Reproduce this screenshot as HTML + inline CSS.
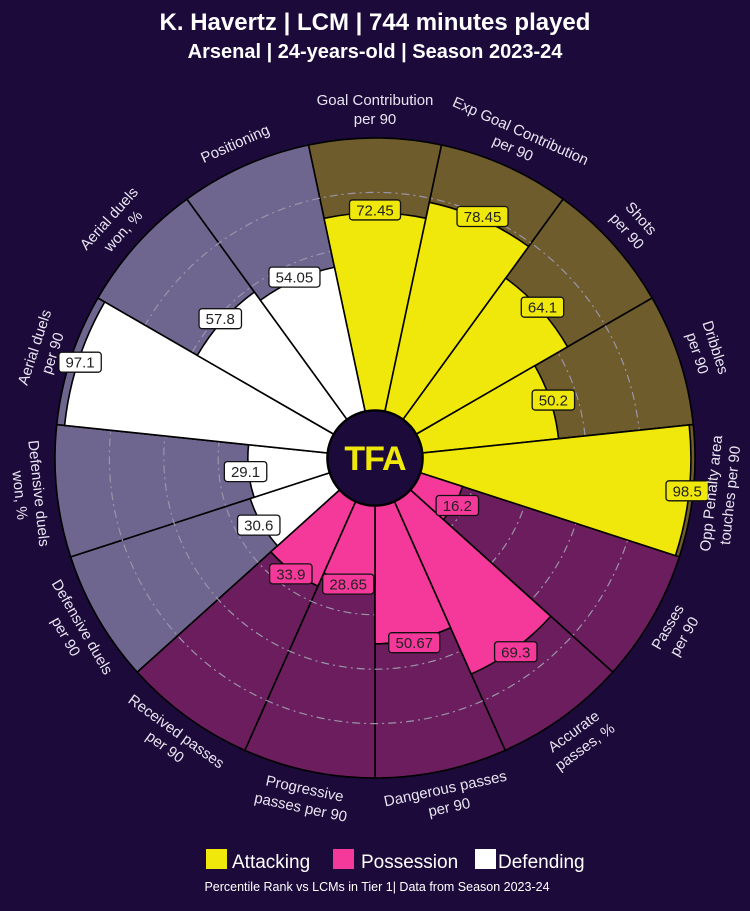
<!DOCTYPE html>
<html><head><meta charset="utf-8">
<style>
html,body{margin:0;padding:0;background:#1c0a3a;}
body{width:750px;height:906px;overflow:hidden;}
svg text{font-family:"Liberation Sans","DejaVu Sans",sans-serif;}
</style></head>
<body>
<svg id="s" width="750" height="906" viewBox="0 0 750 906" xmlns="http://www.w3.org/2000/svg">
<rect width="750" height="906" fill="#1c0a3a"/>
<text x="375" y="30" fill="#ffffff" font-size="24" font-weight="bold" text-anchor="middle">K. Havertz | LCM | 744 minutes played</text>
<text x="375" y="58" fill="#ffffff" font-size="20" font-weight="bold" text-anchor="middle">Arsenal | 24-years-old | Season 2023-24</text>
<g id="g"></g>
<rect x="206" y="849" width="21" height="20" fill="#f0e80a"/>
<text x="232" y="868" fill="#fff" font-size="19">Attacking</text>
<rect x="333" y="849" width="21" height="20" fill="#f5399a"/>
<text x="361" y="868" fill="#fff" font-size="19">Possession</text>
<rect x="475" y="849" width="21" height="20" fill="#ffffff"/>
<text x="498" y="868" fill="#fff" font-size="19">Defending</text>
<text x="377" y="891" fill="#fff" font-size="12.5" text-anchor="middle">Percentile Rank vs LCMs in Tier 1| Data from Season 2023-24</text>
</svg>
<script>
var cx=375,cy=458,R0=48,R=320;
var data=[
["Goal Contribution","per 90",72.45,0],
["Exp Goal Contribution","per 90",78.45,0],
["Shots","per 90",64.1,0],
["Dribbles","per 90",50.2,0],
["Opp Penalty area","touches per 90",98.5,0],
["Passes","per 90",16.2,1],
["Accurate","passes, %",69.3,1],
["Dangerous passes","per 90",50.67,1],
["Progressive","passes per 90",28.65,1],
["Received passes","per 90",33.9,1],
["Defensive duels","per 90",30.6,2],
["Defensive duels","won, %",29.1,2],
["Aerial duels","per 90",97.1,2],
["Aerial duels","won, %",57.8,2],
["Positioning","",54.05,2]];
var bg=["#6e5c2c","#6b1d5e","#6f6690"],fg=["#f0e80a","#f5399a","#ffffff"];
function pt(r,a){var t=a*Math.PI/180;return [cx+r*Math.sin(t),cy-r*Math.cos(t)];}
function wedge(r1,r2,a1,a2,fill){
 var p1=pt(r2,a1),p2=pt(r2,a2),p3=pt(r1,a2),p4=pt(r1,a1);
 return '<path d="M'+p4+' L'+p1+' A'+r2+' '+r2+' 0 0 1 '+p2+' L'+p3+' A'+r1+' '+r1+' 0 0 0 '+p4+' Z" fill="'+fill+'" stroke="#000" stroke-width="1.6"/>';
}
var h='';
data.forEach(function(d,i){var a=i*24;h+=wedge(R0,R,a-12,a+12,bg[d[3]]);});
for(var k=1;k<=4;k++){var rr=R0+(R-R0)*k*0.2;h+='<circle cx="'+cx+'" cy="'+cy+'" r="'+rr+'" fill="none" stroke="#9a94a8" stroke-width="1.2" stroke-dasharray="8 4 2 4"/>';}
data.forEach(function(d,i){var a=i*24;h+=wedge(R0,R0+(R-R0)*d[2]/100,a-12,a+12,fg[d[3]]);});
data.forEach(function(d,i){
 var a=i*24,rv=R0+(R-R0)*d[2]/100+3;if(d[2]>95)rv-=5;
 var p=pt(rv,a),s=String(d[2]),w=s.length*8.6+8;
 h+='<rect x="'+(p[0]-w/2)+'" y="'+(p[1]-10)+'" width="'+w+'" height="20" rx="3" fill="'+fg[d[3]]+'" stroke="#111" stroke-width="1.3"/>';
 h+='<text x="'+p[0]+'" y="'+(p[1]+5.5)+'" font-size="15" fill="#222" text-anchor="middle">'+s+'</text>';
 var low=(a>90&&a<270),rot=low?a-180:a;
 if(d[1]===""){var q=pt(344,a);h+='<text transform="translate('+q+') rotate('+rot+')" y="5" font-size="15" fill="#e8e4f0" text-anchor="middle">'+d[0]+'</text>';}
 else{
  var r1=low?338:358,r2=low?357:339;
  var q1=pt(r1,a),q2=pt(r2,a);
  h+='<text transform="translate('+q1+') rotate('+rot+')" y="5" font-size="15" fill="#e8e4f0" text-anchor="middle">'+d[0]+'</text>';
  h+='<text transform="translate('+q2+') rotate('+rot+')" y="5" font-size="15" fill="#e8e4f0" text-anchor="middle">'+d[1]+'</text>';
 }
});
h+='<circle cx="'+cx+'" cy="'+cy+'" r="47" fill="#1c0a3a" stroke="#000" stroke-width="1"/>';
h+='<text x="'+cx+'" y="'+(cy+12)+'" font-size="34" font-weight="bold" fill="#f0e80a" text-anchor="middle" letter-spacing="-1">TFA</text>';
document.getElementById('g').innerHTML=h;
</script>
</body></html>
